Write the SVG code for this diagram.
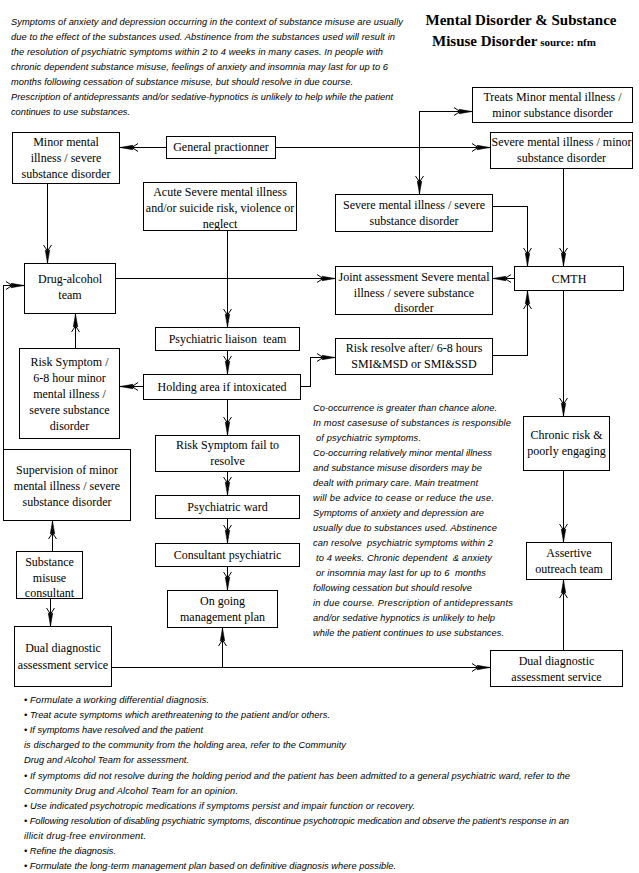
<svg xmlns="http://www.w3.org/2000/svg" width="639" height="873" viewBox="0 0 639 873">
<style>
.box{fill:#fff;stroke:#000;stroke-width:1;shape-rendering:crispEdges}
.bt{font-family:"Liberation Serif","Times New Roman",serif;font-size:12px;text-anchor:middle;fill:#000}
.it{font-family:"Liberation Sans",Arial,sans-serif;font-style:italic;font-size:9.3px;fill:#000}
.ttl{font-family:"Liberation Serif","Times New Roman",serif;font-weight:bold;fill:#000}
.ln{fill:none;stroke:#000;stroke-width:1;marker-end:url(#ah);shape-rendering:crispEdges}
.pre{white-space:pre}
</style>
<defs>
<marker id="ah" markerUnits="userSpaceOnUse" viewBox="-20 -5 21 10" markerWidth="21" markerHeight="10" refX="0" refY="0" orient="auto" overflow="visible">
<path d="M-18,-4 L-12,0 L-18,4" fill="none" stroke="#000" stroke-width="1"/>
<path d="M0,0 L-13,-2.2 L-12,0 L-13,2.2 Z" fill="#000" stroke="#000" stroke-width="0.6"/>
</marker>
</defs>
<rect width="639" height="873" fill="#fff"/>

<g id="intro-text">
<text class="it" x="11" y="24.5" textLength="392">Symptoms of anxiety and depression occurring in the context of substance misuse are usually</text>
<text class="it" x="11" y="39.6" textLength="384">due to the effect of the substances used. Abstinence from the substances used will result in</text>
<text class="it" x="11" y="54.7" textLength="372">the resolution of psychiatric symptoms within 2 to 4 weeks in many cases. In people with</text>
<text class="it" x="11" y="69.8" textLength="377">chronic dependent substance misuse, feelings of anxiety and insomnia may last for up to 6</text>
<text class="it" x="11" y="84.9" textLength="342">months following cessation of substance misuse, but should resolve in due course.</text>
<text class="it" x="11" y="100" textLength="382">Prescription of antidepressants and/or sedative-hypnotics is unlikely to help while the patient</text>
<text class="it" x="11" y="115.1" textLength="119">continues to use substances.</text>
</g>

<g id="title">
<text class="ttl" x="521" y="25" font-size="15" text-anchor="middle">Mental Disorder &amp; Substance</text>
<text class="ttl" x="432" y="46" font-size="15">Misuse Disorder<tspan font-size="11"> source: nfm</tspan></text>
</g>

<g id="connectors">
<path class="ln" d="M166 147.5 L120 147.5"/>
<path class="ln" d="M276 147.5 L490 147.5"/>
<path class="ln" d="M419.5 147.5 L419.5 111.5 L472 111.5"/>
<path class="ln" d="M419.5 147.5 L419.5 194"/>
<path class="ln" d="M47.5 184 L47.5 263"/>
<path class="ln" d="M227.5 231 L227.5 327"/>
<path class="ln" d="M116 278.5 L335 278.5"/>
<path class="ln" d="M563.5 169 L563.5 266"/>
<path class="ln" d="M493 206.5 L527.5 206.5 L527.5 266"/>
<path class="ln" d="M514 278.5 L493 278.5"/>
<path class="ln" d="M493 355.5 L527.5 355.5 L527.5 291"/>
<path class="ln" d="M301 386.5 L310.5 386.5 L310.5 357.5 L335 357.5"/>
<path class="ln" d="M563.5 291 L563.5 416"/>
<path class="ln" d="M563.5 471 L563.5 542"/>
<path class="ln" d="M563.5 650 L563.5 580"/>
<path class="ln" d="M112 667.5 L490 667.5"/>
<path class="ln" d="M222.5 667.5 L222.5 628"/>
<path class="ln" d="M227.5 351 L227.5 374"/>
<path class="ln" d="M143 386.5 L120 386.5"/>
<path class="ln" d="M227.5 400 L227.5 435"/>
<path class="ln" d="M227.5 472 L227.5 495"/>
<path class="ln" d="M227.5 519 L227.5 543"/>
<path class="ln" d="M227.5 567 L227.5 590"/>
<path class="ln" d="M75.5 348 L75.5 314"/>
<path class="ln" d="M3.5 449 L3.5 285.5 L24 285.5"/>
<path class="ln" d="M52.5 551 L52.5 521"/>
<path class="ln" d="M50.5 599 L50.5 626"/>
</g>

<g id="treats-minor"><rect class="box" x="472.5" y="87.5" width="160" height="35"/>
<text class="bt" x="552.5" y="100.5">Treats Minor mental illness /</text><text class="bt" x="552.5" y="116.5">minor substance disorder</text></g>

<g id="severe-minor"><rect class="box" x="490.5" y="132.5" width="142" height="36"/>
<text class="bt" x="561.5" y="146">Severe mental illness / minor</text><text class="bt" x="561.5" y="162">substance disorder</text></g>

<g id="minor-severe"><rect class="box" x="12.5" y="132.5" width="107" height="51"/>
<text class="bt" x="66" y="146">Minor mental</text><text class="bt" x="66" y="162">illness / severe</text><text class="bt" x="66" y="178">substance disorder</text></g>

<g id="gp"><rect class="box" x="166.5" y="136.5" width="109" height="22"/>
<text class="bt" x="221" y="151">General practionner</text></g>

<g id="acute"><rect class="box" x="143.5" y="182.5" width="153" height="48"/>
<text class="bt" x="220" y="196">Acute Severe mental illness</text><text class="bt" x="220" y="212">and/or suicide risk, violence or</text><text class="bt" x="220" y="228">neglect</text></g>

<g id="drug-alcohol"><rect class="box" x="24.5" y="263.5" width="91" height="50"/>
<text class="bt" x="70" y="283">Drug-alcohol</text><text class="bt" x="70" y="299">team</text></g>

<g id="severe-severe"><rect class="box" x="335.5" y="194.5" width="157" height="37"/>
<text class="bt" x="414" y="209">Severe mental illness / severe</text><text class="bt" x="414" y="225">substance disorder</text></g>

<g id="joint"><rect class="box" x="335.5" y="266.5" width="157" height="48"/>
<text class="bt" x="414" y="281">Joint assessment Severe mental</text><text class="bt" x="414" y="296.5">illness / severe substance</text><text class="bt" x="414" y="312">disorder</text></g>

<g id="cmth"><rect class="box" x="514.5" y="266.5" width="109" height="24"/>
<text class="bt" x="569" y="282.5">CMTH</text></g>

<g id="liaison"><rect class="box" x="155.5" y="327.5" width="144" height="23"/>
<text class="bt pre" x="227.5" y="343" xml:space="preserve">Psychiatric liaison  team</text></g>

<g id="risk-resolve"><rect class="box" x="335.5" y="338.5" width="157" height="36"/>
<text class="bt" x="414" y="352">Risk resolve after/ 6-8 hours</text><text class="bt" x="414" y="368">SMI&amp;MSD or SMI&amp;SSD</text></g>

<g id="risk-68"><rect class="box" x="19.5" y="348.5" width="100" height="90"/>
<text class="bt" x="69.5" y="366">Risk Symptom /</text><text class="bt" x="69.5" y="382">6-8 hour minor</text><text class="bt" x="69.5" y="398">mental illness /</text><text class="bt" x="69.5" y="414">severe substance</text><text class="bt" x="69.5" y="430">disorder</text></g>

<g id="holding"><rect class="box" x="143.5" y="374.5" width="157" height="25"/>
<text class="bt" x="222" y="391">Holding area if intoxicated</text></g>

<g id="chronic"><rect class="box" x="523.5" y="416.5" width="86" height="54"/>
<text class="bt" x="566.5" y="439">Chronic risk &amp;</text><text class="bt" x="566.5" y="455">poorly engaging</text></g>

<g id="risk-fail"><rect class="box" x="155.5" y="435.5" width="144" height="36"/>
<text class="bt" x="227.5" y="449">Risk Symptom fail to</text><text class="bt" x="227.5" y="465">resolve</text></g>

<g id="supervision"><rect class="box" x="3.5" y="449.5" width="127" height="71"/>
<text class="bt" x="67" y="474">Supervision of minor</text><text class="bt" x="67" y="490">mental illness / severe</text><text class="bt" x="67" y="506">substance disorder</text></g>

<g id="ward"><rect class="box" x="155.5" y="495.5" width="144" height="23"/>
<text class="bt" x="227.5" y="511">Psychiatric ward</text></g>

<g id="consultant"><rect class="box" x="155.5" y="543.5" width="144" height="23"/>
<text class="bt" x="227.5" y="559">Consultant psychiatric</text></g>

<g id="assertive"><rect class="box" x="526.5" y="542.5" width="85" height="37"/>
<text class="bt" x="569" y="557">Assertive</text><text class="bt" x="569" y="573">outreach team</text></g>

<g id="substance-consultant"><rect class="box" x="16.5" y="551.5" width="66" height="47"/>
<text class="bt" x="49.5" y="566">Substance</text><text class="bt" x="49.5" y="581.5">misuse</text><text class="bt" x="49.5" y="597">consultant</text></g>

<g id="ongoing"><rect class="box" x="167.5" y="590.5" width="110" height="37"/>
<text class="bt" x="222.5" y="605">On going</text><text class="bt" x="222.5" y="621">management plan</text></g>

<g id="dual-left"><rect class="box" x="14.5" y="626.5" width="97" height="60"/>
<text class="bt" x="63" y="652" font-size="12.5">Dual diagnostic</text><text class="bt" x="63" y="669" font-size="12.5">assessment service</text></g>

<g id="dual-right"><rect class="box" x="490.5" y="650.5" width="132" height="36"/>
<text class="bt" x="556.5" y="665">Dual diagnostic</text><text class="bt" x="556.5" y="681">assessment service</text></g>

<g id="middle-text">
<text class="it" x="313" y="410.5" textLength="184">Co-occurrence is greater than chance alone.</text>
<text class="it" x="313" y="425.5" textLength="198">In most casesuse of substances is responsible</text>
<text class="it" x="316" y="440.6" textLength="105">of psychiatric symptoms.</text>
<text class="it" x="313" y="455.6" textLength="179">Co-occurring relatively minor mental illness</text>
<text class="it" x="313" y="470.7" textLength="169">and substance misuse disorders may be</text>
<text class="it" x="313" y="485.7" textLength="165">dealt with primary care. Main treatment</text>
<text class="it" x="313" y="500.8" textLength="181">will be advice to cease or reduce the use.</text>
<text class="it" x="313" y="515.8" textLength="171">Symptoms of anxiety and depression are</text>
<text class="it" x="313" y="530.9" textLength="184">usually due to substances used. Abstinence</text>
<text class="it pre" x="313" y="545.9" textLength="180" xml:space="preserve">can resolve  psychiatric symptoms within 2</text>
<text class="it pre" x="316" y="561" textLength="176" xml:space="preserve">to 4 weeks. Chronic dependent  &amp; anxiety</text>
<text class="it pre" x="316" y="576" textLength="170" xml:space="preserve">or insomnia may last for up to 6  months</text>
<text class="it" x="313" y="591.1" textLength="159">following cessation but should resolve</text>
<text class="it" x="313" y="606.1" textLength="200">in due course. Prescription of antidepressants</text>
<text class="it" x="313" y="621.2" textLength="182">and/or sedative hypnotics is unlikely to help</text>
<text class="it" x="313" y="636.2" textLength="191">while the patient continues to use substances.</text>
</g>

<g id="bullets">
<text class="it" x="24" y="703" textLength="185">• Formulate a working differential diagnosis.</text>
<text class="it" x="24" y="718.1" textLength="306">• Treat acute symptoms which arethreatening to the patient and/or others.</text>
<text class="it" x="24" y="733.2" textLength="179">• If symptoms have resolved and the patient</text>
<text class="it" x="24" y="748.3" textLength="322">is discharged to the community from the holding area, refer to the Community</text>
<text class="it" x="24" y="763.4" textLength="165">Drug and Alcohol Team for assessment.</text>
<text class="it" x="24" y="778.5" textLength="546">• If symptoms did not resolve during the holding period and the patient has been admitted to a general psychiatric ward, refer to the</text>
<text class="it" x="24" y="793.6" textLength="214">Community Drug and Alcohol Team for an opinion.</text>
<text class="it" x="24" y="808.7" textLength="391">• Use indicated psychotropic medications if symptoms persist and impair function or recovery.</text>
<text class="it" x="24" y="823.8" textLength="545">• Following resolution of disabling psychiatric symptoms, discontinue psychotropic medication and observe the patient's response in an</text>
<text class="it" x="24" y="838.9" textLength="122">illicit drug-free environment.</text>
<text class="it" x="24" y="854" textLength="92">• Refine the diagnosis.</text>
<text class="it" x="24" y="869.1" textLength="372">• Formulate the long-term management plan based on definitive diagnosis where possible.</text>
</g>
</svg>
